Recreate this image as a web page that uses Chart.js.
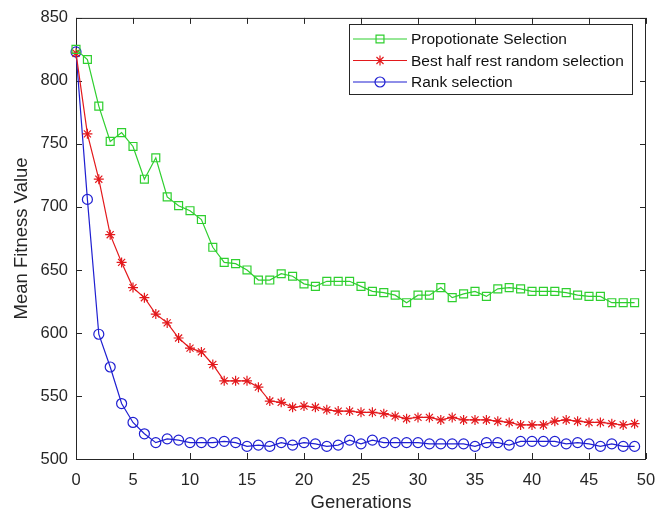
<!DOCTYPE html>
<html>
<head>
<meta charset="utf-8">
<script src="https://cdn.jsdelivr.net/npm/chart.js@4/dist/chart.umd.min.js"></script>
<style>
  html, body { margin: 0; padding: 0; background: #fff; }
  #wrap { width: 671px; height: 516px; }
</style>
</head>
<body>
<div id="wrap"><canvas id="myChart" width="671" height="516"></canvas></div>
<script>
// generations on the x axis
const generations = [0, 1, 2, 3, 4, 5, 6, 7, 8, 9, 10, 11, 12, 13, 14, 15, 16, 17, 18, 19,
    20, 21, 22, 23, 24, 25, 26, 27, 28, 29, 30, 31, 32, 33, 34, 35, 36, 37, 38, 39,
    40, 41, 42, 43, 44, 45, 46, 47, 48, 49];

const propotionate = [825, 817, 780, 752, 759, 748, 722, 739, 708, 701, 697, 690, 668, 656, 655, 650,
    642, 642, 647, 645, 639, 637, 641, 641, 641, 637, 633, 632, 630, 624, 630, 630, 636, 628, 631,
    633, 629, 635, 636, 635, 633, 633, 633, 632, 630, 629, 629, 624, 624, 624];

const bestHalf = [822, 758, 722, 678, 656, 636, 628, 615, 608, 596, 588, 585, 575, 562, 562, 562,
    557, 546, 545, 541, 542, 541, 539, 538, 538, 537, 537, 536, 534, 532, 533, 533, 531, 533, 531,
    531, 531, 530, 529, 527, 527, 527, 530, 531, 530, 529, 529, 528, 527, 528];

const rankSel = [823, 706, 599, 573, 544, 529, 520, 513, 516, 515, 513, 513, 513, 514, 513, 510,
    511, 510, 513, 511, 513, 512, 510, 511, 515, 512, 515, 513, 513, 513, 513, 512, 512, 512, 512,
    510, 513, 513, 511, 514, 514, 514, 514, 512, 513, 512, 510, 512, 510, 510];

const seriesNames = ['Propotionate Selection', 'Best half rest random selection', 'Rank selection'];
const seriesColors = ['#2fcf2f', '#e3191c', '#1f1fd1'];
const seriesMarkers = ['rect', 'star', 'circle'];
const seriesRadius = [5.6, 5, 5];

const axisColor = '#262626';
const fontFamily = '"Liberation Sans", Arial, Helvetica, sans-serif';

const toPoints = (vals) => vals.map((v, i) => ({ x: generations[i], y: v }));

// draw a single marker (used for the legend)
function drawMarker(ctx, style, x, y, r) {
    ctx.beginPath();
    if (style === 'rect') {
        const s = r * Math.SQRT1_2;
        ctx.rect(x - s, y - s, 2 * s, 2 * s);
    } else if (style === 'circle') {
        ctx.arc(x, y, r, 0, Math.PI * 2);
    } else if (style === 'star') {
        for (let k = 0; k < 4; k++) {
            const a = k * Math.PI / 4;
            ctx.moveTo(x - Math.cos(a) * r, y - Math.sin(a) * r);
            ctx.lineTo(x + Math.cos(a) * r, y + Math.sin(a) * r);
        }
    }
    ctx.stroke();
}

// box round the axes with inward ticks on all four sides
const matlabAxes = {
    id: 'matlabAxes',
    beforeDatasetsDraw(chart) {
        const { ctx, chartArea: a, scales } = chart;
        const len = 6;
        ctx.save();
        ctx.strokeStyle = axisColor;
        ctx.lineWidth = 1;
        ctx.strokeRect(a.left + 0.5, a.top + 0.5, a.right - a.left - 1, a.bottom - a.top);
        ctx.beginPath();
        scales.x.ticks.forEach(t => {
            const px = Math.round(scales.x.getPixelForValue(t.value)) + 0.5;
            ctx.moveTo(px, a.bottom); ctx.lineTo(px, a.bottom - len);
            ctx.moveTo(px, a.top); ctx.lineTo(px, a.top + len);
        });
        scales.y.ticks.forEach(t => {
            const py = Math.round(scales.y.getPixelForValue(t.value)) + 0.5;
            ctx.moveTo(a.left, py); ctx.lineTo(a.left + len, py);
            ctx.moveTo(a.right, py); ctx.lineTo(a.right - len, py);
        });
        ctx.stroke();
        ctx.restore();
    }
};

// legend box in the upper right
const boxLegend = {
    id: 'boxLegend',
    afterDraw(chart) {
        const { ctx } = chart;
        const bx = 349, by = 24, bw = 283, bh = 70;
        const rows = [39, 60.5, 82];
        ctx.save();
        ctx.fillStyle = '#fff';
        ctx.fillRect(bx, by, bw, bh);
        ctx.strokeStyle = axisColor;
        ctx.lineWidth = 1;
        ctx.strokeRect(bx + 0.5, by + 0.5, bw, bh);
        ctx.font = '15.5px ' + fontFamily;
        ctx.textBaseline = 'middle';
        ctx.textAlign = 'left';
        seriesNames.forEach((name, i) => {
            const y = rows[i];
            ctx.strokeStyle = seriesColors[i];
            ctx.lineWidth = 1.2;
            ctx.beginPath();
            ctx.moveTo(353, y); ctx.lineTo(407, y);
            ctx.stroke();
            drawMarker(ctx, seriesMarkers[i], 380, y, seriesRadius[i]);
            ctx.fillStyle = '#111';
            ctx.fillText(name, 411, y + 1);
        });
        ctx.restore();
    }
};

const datasets = [propotionate, bestHalf, rankSel].map((vals, i) => ({
    label: seriesNames[i],
    data: toPoints(vals),
    borderColor: seriesColors[i],
    borderWidth: 1.2,
    backgroundColor: 'rgba(0,0,0,0)',
    pointStyle: seriesMarkers[i],
    pointRadius: seriesRadius[i],
    pointBorderWidth: 1.2,
    pointBorderColor: seriesColors[i],
    pointBackgroundColor: 'rgba(0,0,0,0)',
    tension: 0,
    fill: false,
    clip: false
}));

new Chart('myChart', {
    type: 'line',
    data: { datasets: datasets },
    options: {
        responsive: false,
        animation: false,
        layout: { padding: { left: 0, top: 11, right: 25, bottom: 0 } },
        plugins: {
            legend: { display: false },
            tooltip: { enabled: false }
        },
        scales: {
            x: {
                type: 'linear',
                min: 0,
                max: 50,
                border: { display: false },
                grid: { display: false, drawTicks: false },
                ticks: {
                    stepSize: 5,
                    autoSkip: false,
                    maxRotation: 0,
                    padding: 12,
                    color: axisColor,
                    font: { family: fontFamily, size: 16.5 }
                },
                title: {
                    display: true,
                    text: 'Generations',
                    color: axisColor,
                    padding: { top: 0, bottom: 2 },
                    font: { family: fontFamily, size: 18.5 }
                },
                afterFit(scale) { scale.height = 57; }
            },
            y: {
                min: 500,
                max: 850,
                border: { display: false },
                grid: { display: false, drawTicks: false },
                ticks: {
                    stepSize: 50,
                    autoSkip: false,
                    padding: 8,
                    color: axisColor,
                    font: { family: fontFamily, size: 16.5 }
                },
                title: {
                    display: true,
                    text: 'Mean Fitness Value',
                    color: axisColor,
                    padding: { top: 11, bottom: 0 },
                    font: { family: fontFamily, size: 18.5 }
                },
                afterFit(scale) { scale.width = 76; }
            }
        }
    },
    plugins: [matlabAxes, boxLegend]
});
</script>
</body>
</html>
